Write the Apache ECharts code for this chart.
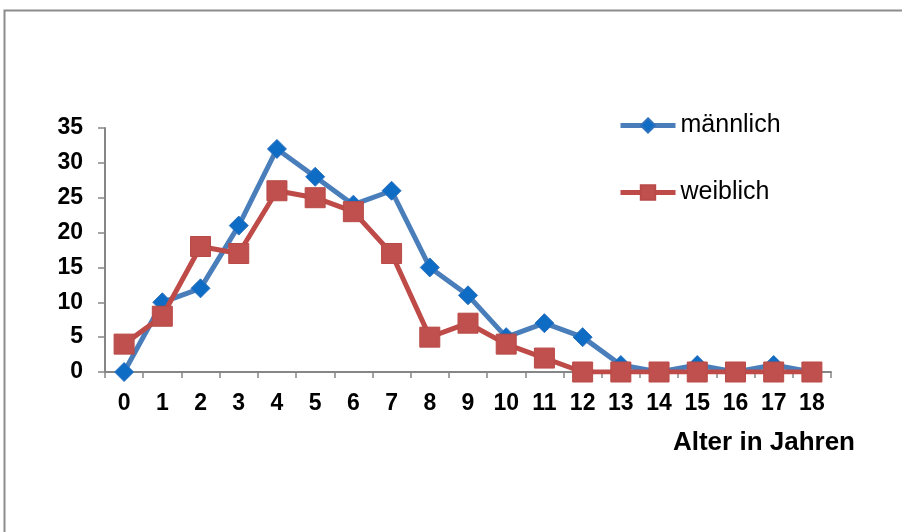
<!DOCTYPE html>
<html>
<head>
<meta charset="utf-8">
<script src="https://cdn.jsdelivr.net/npm/echarts@6/dist/echarts.min.js"></script>
<style>
  html, body { margin: 0; padding: 0; background: #fff; }
  #chart { width: 902px; height: 532px; }
</style>
</head>
<body>
<div id="chart"></div>
<script>
// Age in years (category axis)
const ages = ['0','1','2','3','4','5','6','7','8','9','10','11','12','13','14','15','16','17','18'];
// Counts per age
const maennlich = [0,10,12,21,32,28,24,26,15,11,5,7,5,1,0,1,0,1,0];
const weiblich  = [4,8,18,17,26,25,23,17,5,7,4,2,0,0,0,0,0,0,0];

const chart = echarts.init(document.getElementById('chart'));
const font = 'Arial, "Liberation Sans", sans-serif';

chart.setOption({
  animation: false,
  backgroundColor: '#fff',
  graphic: [
    {
      type: 'rect',
      shape: { x: 4.5, y: 10.5, width: 1000, height: 1000 },
      style: { fill: 'none', stroke: '#8c8c8c', lineWidth: 2 }
    },
    {
      type: 'text',
      right: 47, top: 430,
      style: { text: 'Alter in Jahren', font: 'bold 26px ' + font, fill: '#000' }
    }
  ],
  grid: { left: 105, right: 71, top: 128, bottom: 160 },
  legend: {
    orient: 'vertical',
    left: 618, top: 113,
    padding: 0,
    itemWidth: 55, itemHeight: 18,
    itemGap: 42,
    lineStyle: { width: 5 },
    textStyle: { fontFamily: font, fontSize: 25, color: '#000' },
    data: ['männlich', 'weiblich']
  },
  xAxis: {
    type: 'category',
    data: ages,
    boundaryGap: true,
    axisLine: { lineStyle: { color: '#868686', width: 2 } },
    axisTick: { show: true, length: 6, lineStyle: { color: '#868686', width: 1.5 } },
    axisLabel: { color: '#000', fontFamily: font, fontWeight: 'bold', fontSize: 23, margin: 20 }
  },
  yAxis: {
    type: 'value',
    min: 0, max: 35, interval: 5,
    splitLine: { show: false },
    axisLine: { show: true, lineStyle: { color: '#868686', width: 2 } },
    axisTick: { show: true, length: 7, lineStyle: { color: '#868686', width: 1.5 } },
    axisLabel: { color: '#000', fontFamily: font, fontWeight: 'bold', fontSize: 23, margin: 22 }
  },
  series: [
    {
      name: 'männlich',
      type: 'line',
      data: maennlich,
      symbol: 'diamond',
      symbolSize: 19,
      lineStyle: { color: '#4A7EBB', width: 5 },
      itemStyle: { color: '#0E6CC4', borderColor: '#2F72BE', borderWidth: 1 },
      z: 2
    },
    {
      name: 'weiblich',
      type: 'line',
      data: weiblich,
      symbol: 'rect',
      symbolSize: 20,
      lineStyle: { color: '#BE4B48', width: 5 },
      itemStyle: { color: '#C0504D', borderColor: '#B84A47', borderWidth: 1 },
      z: 3
    }
  ]
});
</script>
</body>
</html>
